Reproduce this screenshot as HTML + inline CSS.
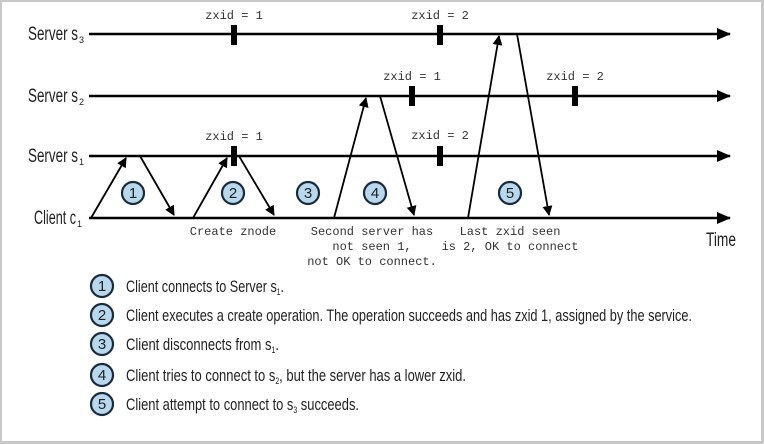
<!DOCTYPE html>
<html><head><meta charset="utf-8"><style>
html,body{margin:0;padding:0;background:#fff;}
svg{display:block;}
.mono{font-family:"Liberation Mono","DejaVu Sans Mono",monospace;font-size:12px;fill:#333;}
.lab{font-family:"Liberation Sans",sans-serif;font-size:19px;fill:#222;}
.leg{font-family:"Liberation Sans",sans-serif;font-size:17px;fill:#222;}
.num{font-family:"Liberation Sans",sans-serif;font-size:15px;fill:#222;text-anchor:middle;}
</style></head><body>
<svg width="764" height="444" viewBox="0 0 764 444" xmlns="http://www.w3.org/2000/svg">
<defs>
<marker id="ah" markerWidth="10" markerHeight="10" refX="9" refY="5" orient="auto" markerUnits="userSpaceOnUse">
<path d="M0,0 L10,5 L0,10 Z" fill="#000"/>
</marker>
<marker id="ab" markerWidth="14" markerHeight="12" refX="13" refY="6" orient="auto" markerUnits="userSpaceOnUse">
<path d="M0,0 L14,6 L0,12 Z" fill="#000"/>
</marker>
</defs>
<rect x="0" y="0" width="764" height="444" fill="#c8c8c8"/>
<rect x="2" y="2" width="759" height="439" fill="#fff"/>
<g stroke="#000" stroke-width="2.5">
<line x1="89" y1="34" x2="730" y2="34" marker-end="url(#ab)"/>
<line x1="89" y1="96" x2="730" y2="96" marker-end="url(#ab)"/>
<line x1="89" y1="156" x2="730" y2="156" marker-end="url(#ab)"/>
<line x1="89" y1="218" x2="730" y2="218" marker-end="url(#ab)"/>
</g>
<g fill="#000">
<rect x="231" y="25" width="6" height="20"/>
<rect x="437" y="25" width="6" height="20"/>
<rect x="409" y="86" width="6" height="20"/>
<rect x="572" y="86" width="6" height="20"/>
<rect x="231" y="146" width="6" height="20"/>
<rect x="437" y="146" width="6" height="20"/>
</g>
<g class="mono" text-anchor="middle">
<text x="234" y="19">zxid = 1</text>
<text x="440" y="19">zxid = 2</text>
<text x="412" y="80">zxid = 1</text>
<text x="575" y="80">zxid = 2</text>
<text x="234" y="140">zxid = 1</text>
<text x="440" y="139">zxid = 2</text>
<text x="233" y="235">Create znode</text>
<text x="372" y="235">Second server has</text>
<text x="372" y="250">not seen 1,</text>
<text x="372" y="265">not OK to connect.</text>
<text x="510" y="235">Last zxid seen</text>
<text x="510" y="250">is 2, OK to connect</text>
</g>
<g class="lab" text-anchor="end">
<text x="78" y="40" textLength="50" lengthAdjust="spacingAndGlyphs">Server s</text><text x="84" y="43" style="font-size:9px">3</text>
<text x="78" y="102" textLength="50" lengthAdjust="spacingAndGlyphs">Server s</text><text x="84" y="105" style="font-size:9px">2</text>
<text x="78" y="162" textLength="50" lengthAdjust="spacingAndGlyphs">Server s</text><text x="84" y="165" style="font-size:9px">1</text>
<text x="76" y="224" textLength="42" lengthAdjust="spacingAndGlyphs">Client c</text><text x="82" y="227" style="font-size:9px">1</text>
</g>
<text class="lab" x="706" y="246" textLength="30" lengthAdjust="spacingAndGlyphs">Time</text>
<g stroke="#000" stroke-width="1.8" fill="none">
<line x1="91" y1="218" x2="126" y2="158" marker-end="url(#ah)"/>
<line x1="140" y1="156" x2="174" y2="215" marker-end="url(#ah)"/>
<line x1="193" y1="218" x2="227" y2="158" marker-end="url(#ah)"/>
<line x1="239" y1="156" x2="274" y2="215" marker-end="url(#ah)"/>
<line x1="334" y1="218" x2="366" y2="98" marker-end="url(#ah)"/>
<line x1="380" y1="96" x2="414" y2="215" marker-end="url(#ah)"/>
<line x1="468" y1="218" x2="499" y2="36" marker-end="url(#ah)"/>
<line x1="517" y1="34" x2="549" y2="215" marker-end="url(#ah)"/>
</g>
<g stroke="#1a2a3a" stroke-width="2.2" fill="#b8d8ee">
<circle cx="133" cy="193" r="11"/><circle cx="233" cy="193" r="11"/><circle cx="308" cy="193" r="11"/><circle cx="375" cy="193" r="11"/><circle cx="510" cy="193" r="11"/>
<circle cx="102" cy="286" r="11"/><circle cx="102" cy="315" r="11"/><circle cx="102" cy="344" r="11"/><circle cx="102" cy="375" r="11"/><circle cx="102" cy="404" r="11"/>
</g>
<g class="num">
<text x="133" y="198">1</text><text x="233" y="198">2</text><text x="308" y="198">3</text><text x="375" y="198">4</text><text x="510" y="198">5</text>
<text x="102" y="291">1</text><text x="102" y="320">2</text><text x="102" y="349">3</text><text x="102" y="380">4</text><text x="102" y="409">5</text>
</g>
<g class="leg">
<text x="126" y="292" textLength="158" lengthAdjust="spacingAndGlyphs">Client connects to Server s<tspan style="font-size:9px" dy="3">1</tspan><tspan dy="-3">.</tspan></text>
<text x="126" y="321" textLength="566" lengthAdjust="spacingAndGlyphs">Client executes a create operation. The operation succeeds and has zxid 1, assigned by the service.</text>
<text x="126" y="350" textLength="153" lengthAdjust="spacingAndGlyphs">Client disconnects from s<tspan style="font-size:9px" dy="3">1</tspan><tspan dy="-3">.</tspan></text>
<text x="126" y="381" textLength="340" lengthAdjust="spacingAndGlyphs">Client tries to connect to s<tspan style="font-size:9px" dy="3">2</tspan><tspan dy="-3">, but the server has a lower zxid.</tspan></text>
<text x="126" y="410" textLength="233" lengthAdjust="spacingAndGlyphs">Client attempt to connect to s<tspan style="font-size:9px" dy="3">3</tspan><tspan dy="-3"> succeeds.</tspan></text>
</g>
</svg>
</body></html>
